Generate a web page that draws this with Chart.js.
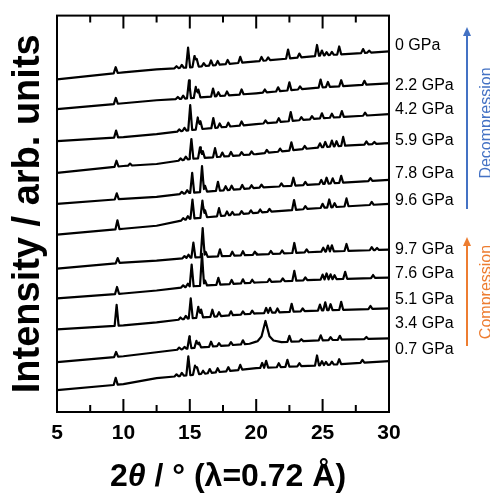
<!DOCTYPE html>
<html>
<head>
<meta charset="utf-8">
<script src="https://cdn.jsdelivr.net/npm/chart.js@4/dist/chart.umd.min.js"></script>
<style>
  body { margin: 0; background: #fff; }
</style>
</head>
<body>
<canvas id="chart" width="490" height="493"></canvas>
<script>
// x grid where the baselines were read (2theta, deg)
const baseX = [5, 10, 12.5, 15, 20, 25, 30]

// labels on the right and the level where each one sits
const pressureLabels = ['0 GPa', '2.2 GPa', '4.2 GPa', '5.9 GPa', '7.8 GPa', '9.6 GPa',
  '9.7 GPa', '7.6 GPa', '5.1 GPa', '3.4 GPa', '0.7 GPa']
const labelLevels = [368, 328, 304, 272, 239, 212, 163, 139, 113, 89, 63]

// baselines (stacked, arb. units) at baseX
const base00 = [334, 341, 344, 346, 352, 358, 362]
const base22 = [304, 310, 313, 315, 320, 326, 330]
const base42 = [272, 276, 279, 283, 289, 295, 299]
const base59 = [240, 247, 249, 254, 259, 266, 270]
const base78 = [209, 214, 216, 220, 225, 229, 233]
const base96 = [178, 184, 187, 194, 200, 205, 209]
const base97 = [144, 150, 152, 155, 158, 161, 163]
const base76 = [114, 119, 122, 126, 130, 133, 135]
const base51 = [83, 87, 90, 94, 99, 102, 104]
const base34 = [50, 56, 60, 64, 69, 72, 74]
const base07 = [22, 28, 34, 37, 44, 47, 51]

// peaks: [2theta, height, half width (optional)]
const peaks00 = [[9.42, 6], [14.0, 2], [14.4, 3], [14.87, 20], [15.35, 11], [15.52, 8], [16.05, 3], [16.6, 5], [17.1, 4], [17.85, 4], [18.8, 6], [20.4, 4], [20.9, 3], [22.4, 9], [23.25, 4], [24.58, 11], [24.95, 5], [25.3, 3], [25.7, 3], [26.25, 8], [28.05, 4], [28.5, 2]]
const peaks22 = [[9.43, 6], [14.1, 2], [14.5, 3], [14.94, 18], [15.45, 11], [15.65, 8], [16.75, 8], [17.15, 4], [17.8, 4], [18.9, 5], [20.65, 3], [21.65, 4], [22.5, 8], [23.3, 3], [24.85, 8], [25.4, 5], [26.4, 6], [28.15, 4]]
const peaks42 = [[9.45, 7], [14.2, 2], [14.6, 3], [15.03, 25], [15.6, 12], [15.8, 8], [16.77, 10], [17.25, 4], [17.9, 4], [18.9, 4], [20.7, 3], [21.7, 4], [22.6, 9], [23.4, 3], [24.2, 3], [24.95, 5], [25.7, 4], [26.45, 6], [28.2, 3]]
const peaks59 = [[9.48, 6], [10.5, 2], [14.3, 2], [14.7, 3], [15.12, 20], [15.77, 11], [15.98, 7], [16.9, 9], [17.45, 4], [18.1, 4], [18.9, 3], [19.65, 3], [20.8, 3], [21.8, 3], [22.65, 8], [23.65, 3], [24.8, 4], [25.2, 5], [25.7, 6], [26.05, 5], [26.55, 9], [28.3, 3], [28.9, 2]]
const peaks78 = [[9.5, 6], [14.4, 2], [14.8, 3], [15.18, 20], [15.92, 26], [16.15, 6], [17.12, 9], [17.7, 4], [18.15, 4], [18.95, 4], [19.65, 3], [20.4, 3], [21.9, 3], [22.8, 8], [23.7, 3], [24.9, 4], [25.3, 6], [25.76, 5], [26.4, 7], [28.6, 3]]
const peaks96 = [[9.55, 9], [14.5, 2], [14.85, 3], [15.2, 19], [15.95, 17], [16.15, 7], [17.2, 8], [17.8, 4], [18.2, 3], [18.9, 3], [19.6, 3], [20.3, 3], [21.0, 3], [22.85, 10], [23.7, 3], [25.0, 4], [25.5, 8], [25.9, 4], [26.8, 8], [28.7, 3]]
const peaks97 = [[9.57, 5], [14.6, 2], [14.9, 3], [15.27, 15], [15.97, 29], [16.2, 5], [17.27, 7], [18.2, 4], [19.0, 4], [19.9, 3], [21.1, 3], [21.95, 3], [22.87, 10], [23.8, 3], [25.05, 4], [25.4, 6], [25.7, 6], [26.8, 7], [28.7, 3], [29.1, 2]]
const peaks76 = [[9.52, 7], [14.5, 2], [14.85, 3], [15.14, 22], [15.92, 32], [16.15, 5], [17.15, 7], [18.15, 4], [19.0, 4], [19.7, 3], [21.0, 3], [22.0, 3], [22.87, 10], [23.7, 3], [25.0, 5], [25.3, 6], [25.6, 5], [25.9, 4], [26.7, 7], [28.8, 3]]
const peaks51 = [[9.49, 21], [14.3, 2], [14.7, 3], [15.07, 20], [15.64, 11], [15.85, 8], [16.7, 7], [17.2, 4], [18.1, 4], [19.0, 3], [19.7, 3], [20.75, 5], [21.05, 5], [21.6, 4], [22.67, 8], [23.5, 3], [24.8, 6], [25.2, 8], [25.6, 6], [26.4, 8], [28.6, 3]]
const peaks34 = [[9.45, 5], [14.2, 2], [14.6, 2], [14.97, 12], [15.5, 7], [15.7, 5], [16.6, 5], [17.2, 3], [18.1, 3], [19.0, 4], [20.7, 11, 0.3], [20.7, 7, 0.6], [20.7, 4, 1.2], [22.5, 6], [23.4, 2], [24.86, 5], [25.6, 3], [26.3, 4], [28.3, 2]]
const peaks07 = [[9.42, 7], [14.0, 2], [14.4, 3], [14.89, 19], [15.39, 9], [15.55, 7], [16.0, 3], [16.5, 4], [17.1, 4], [17.9, 4], [18.8, 5], [20.45, 5], [20.75, 7], [21.7, 4], [22.35, 7], [23.25, 3], [24.58, 10], [24.95, 4], [25.25, 3], [25.7, 3], [26.25, 5], [28.0, 3]]

const traces = [
  [base00, peaks00], [base22, peaks22], [base42, peaks42], [base59, peaks59],
  [base78, peaks78], [base96, peaks96], [base97, peaks97], [base76, peaks76],
  [base51, peaks51], [base34, peaks34], [base07, peaks07]
]

const W = 0.15

const baseAt = (base, x) => {
  for (let i = 0; i < baseX.length - 1; i++) {
    if (x <= baseX[i + 1]) {
      const t = (x - baseX[i]) / (baseX[i + 1] - baseX[i])
      return base[i] + t * (base[i + 1] - base[i])
    }
  }
  return base[base.length - 1]
}

const buildTrace = (base, peaks) => {
  const xs = new Set(baseX)
  peaks.forEach(([p, h, w = W]) => { xs.add(p - w); xs.add(p); xs.add(p + w) })
  return [...xs].filter(x => x >= 5 && x <= 30).sort((a, b) => a - b).map(x => {
    let y = baseAt(base, x)
    peaks.forEach(([p, h, w = W]) => {
      const d = Math.abs(x - p)
      if (d < w) y += h * (1 - d / w)
    })
    return { x: x, y: y }
  })
}

const datasets = traces.map(([b, p], i) => ({
  label: pressureLabels[i],
  data: buildTrace(b, p),
  borderColor: '#000',
  borderWidth: 2.2,
  pointRadius: 0,
  tension: 0,
  fill: false,
  borderJoinStyle: 'round'
}))

//Frame, inward ticks, x title, arrows
const extras = {
  id: 'extras',
  afterDraw(chart) {
    const ctx = chart.ctx
    const a = chart.chartArea
    const xs = chart.scales.x
    ctx.save()
    ctx.strokeStyle = '#000'
    ctx.lineWidth = 2
    ctx.strokeRect(a.left, a.top, a.right - a.left, a.bottom - a.top)
    xs.ticks.forEach(t => {
      const px = xs.getPixelForValue(t.value)
      const len = t.value % 5 === 0 ? 13 : 7
      ctx.beginPath()
      ctx.moveTo(px, a.bottom); ctx.lineTo(px, a.bottom - len)
      ctx.moveTo(px, a.top); ctx.lineTo(px, a.top + len)
      ctx.stroke()
    })

    // x title with italic theta
    const parts = [['2', 'bold 32px "Liberation Sans"'], ['θ', 'italic bold 32px "Liberation Sans"'],
      [' / ° (λ=0.72 Å)', 'bold 32px "Liberation Sans"']]
    let total = 0
    parts.forEach(([s, f]) => { ctx.font = f; total += ctx.measureText(s).width })
    let x = (a.left + a.right) / 2 + 5 - total / 2
    ctx.fillStyle = '#000'
    ctx.textBaseline = 'alphabetic'
    ctx.textAlign = 'left'
    parts.forEach(([s, f]) => { ctx.font = f; ctx.fillText(s, x, 486); x += ctx.measureText(s).width })

    // arrows
    const arrow = (col, yFrom, yTo) => {
      ctx.strokeStyle = col
      ctx.fillStyle = col
      ctx.lineWidth = 2
      ctx.beginPath()
      ctx.moveTo(467, yFrom); ctx.lineTo(467, yTo + 6)
      ctx.stroke()
      ctx.beginPath()
      ctx.moveTo(467, yTo); ctx.lineTo(463, yTo + 9); ctx.lineTo(471, yTo + 9)
      ctx.closePath()
      ctx.fill()
    }
    arrow('#4472C4', 209, 27)
    arrow('#ED7D31', 346, 237)

    const side = (txt, col, yc) => {
      ctx.save()
      ctx.translate(491, yc)
      ctx.rotate(-Math.PI / 2)
      ctx.font = '16px "Liberation Sans"'
      ctx.fillStyle = col
      ctx.textAlign = 'center'
      ctx.textBaseline = 'alphabetic'
      ctx.fillText(txt, 0, 0)
      ctx.restore()
    }
    side('Decompression', '#4472C4', 123)
    side('Compression', '#ED7D31', 292)
    ctx.restore()
  }
}

const config = {
  type: 'line',
  data: { datasets: datasets },
  options: {
    responsive: false,
    animation: false,
    layout: { padding: { top: 14, left: 0, right: 0, bottom: 0 } },
    plugins: { legend: { display: false }, tooltip: { enabled: false } },
    scales: {
      x: {
        type: 'linear',
        min: 5,
        max: 30,
        grid: { display: false },
        border: { display: false },
        ticks: {
          stepSize: 2.5,
          autoSkip: false,
          maxRotation: 0,
          padding: 1,
          color: '#000',
          font: { family: 'Liberation Sans', size: 21, weight: 'bold' },
          callback: v => v % 5 === 0 ? v : ''
        },
        afterFit: s => { s.height = 81 }
      },
      y: {
        type: 'linear',
        min: 0,
        max: 398,
        grid: { display: false },
        border: { display: false },
        ticks: { display: false },
        title: {
          display: true,
          text: 'Intensity / arb. units',
          color: '#000',
          font: { family: 'Liberation Sans', size: 38, weight: 'bold' },
          padding: { top: 6, bottom: 0 }
        },
        afterFit: s => { s.width = 57 }
      },
      y2: {
        type: 'linear',
        position: 'right',
        min: 0,
        max: 398,
        grid: { display: false, drawTicks: false },
        border: { display: false },
        afterBuildTicks: s => { s.ticks = labelLevels.map(v => ({ value: v })) },
        ticks: {
          autoSkip: false,
          padding: 6,
          color: '#000',
          font: { family: 'Liberation Sans', size: 16 },
          callback: v => pressureLabels[labelLevels.indexOf(v)]
        },
        afterFit: s => { s.width = 101 }
      }
    }
  },
  plugins: [extras]
}

const ctx = document.getElementById('chart').getContext('2d')
const myChart = new Chart(ctx, config)
</script>
</body>
</html>
